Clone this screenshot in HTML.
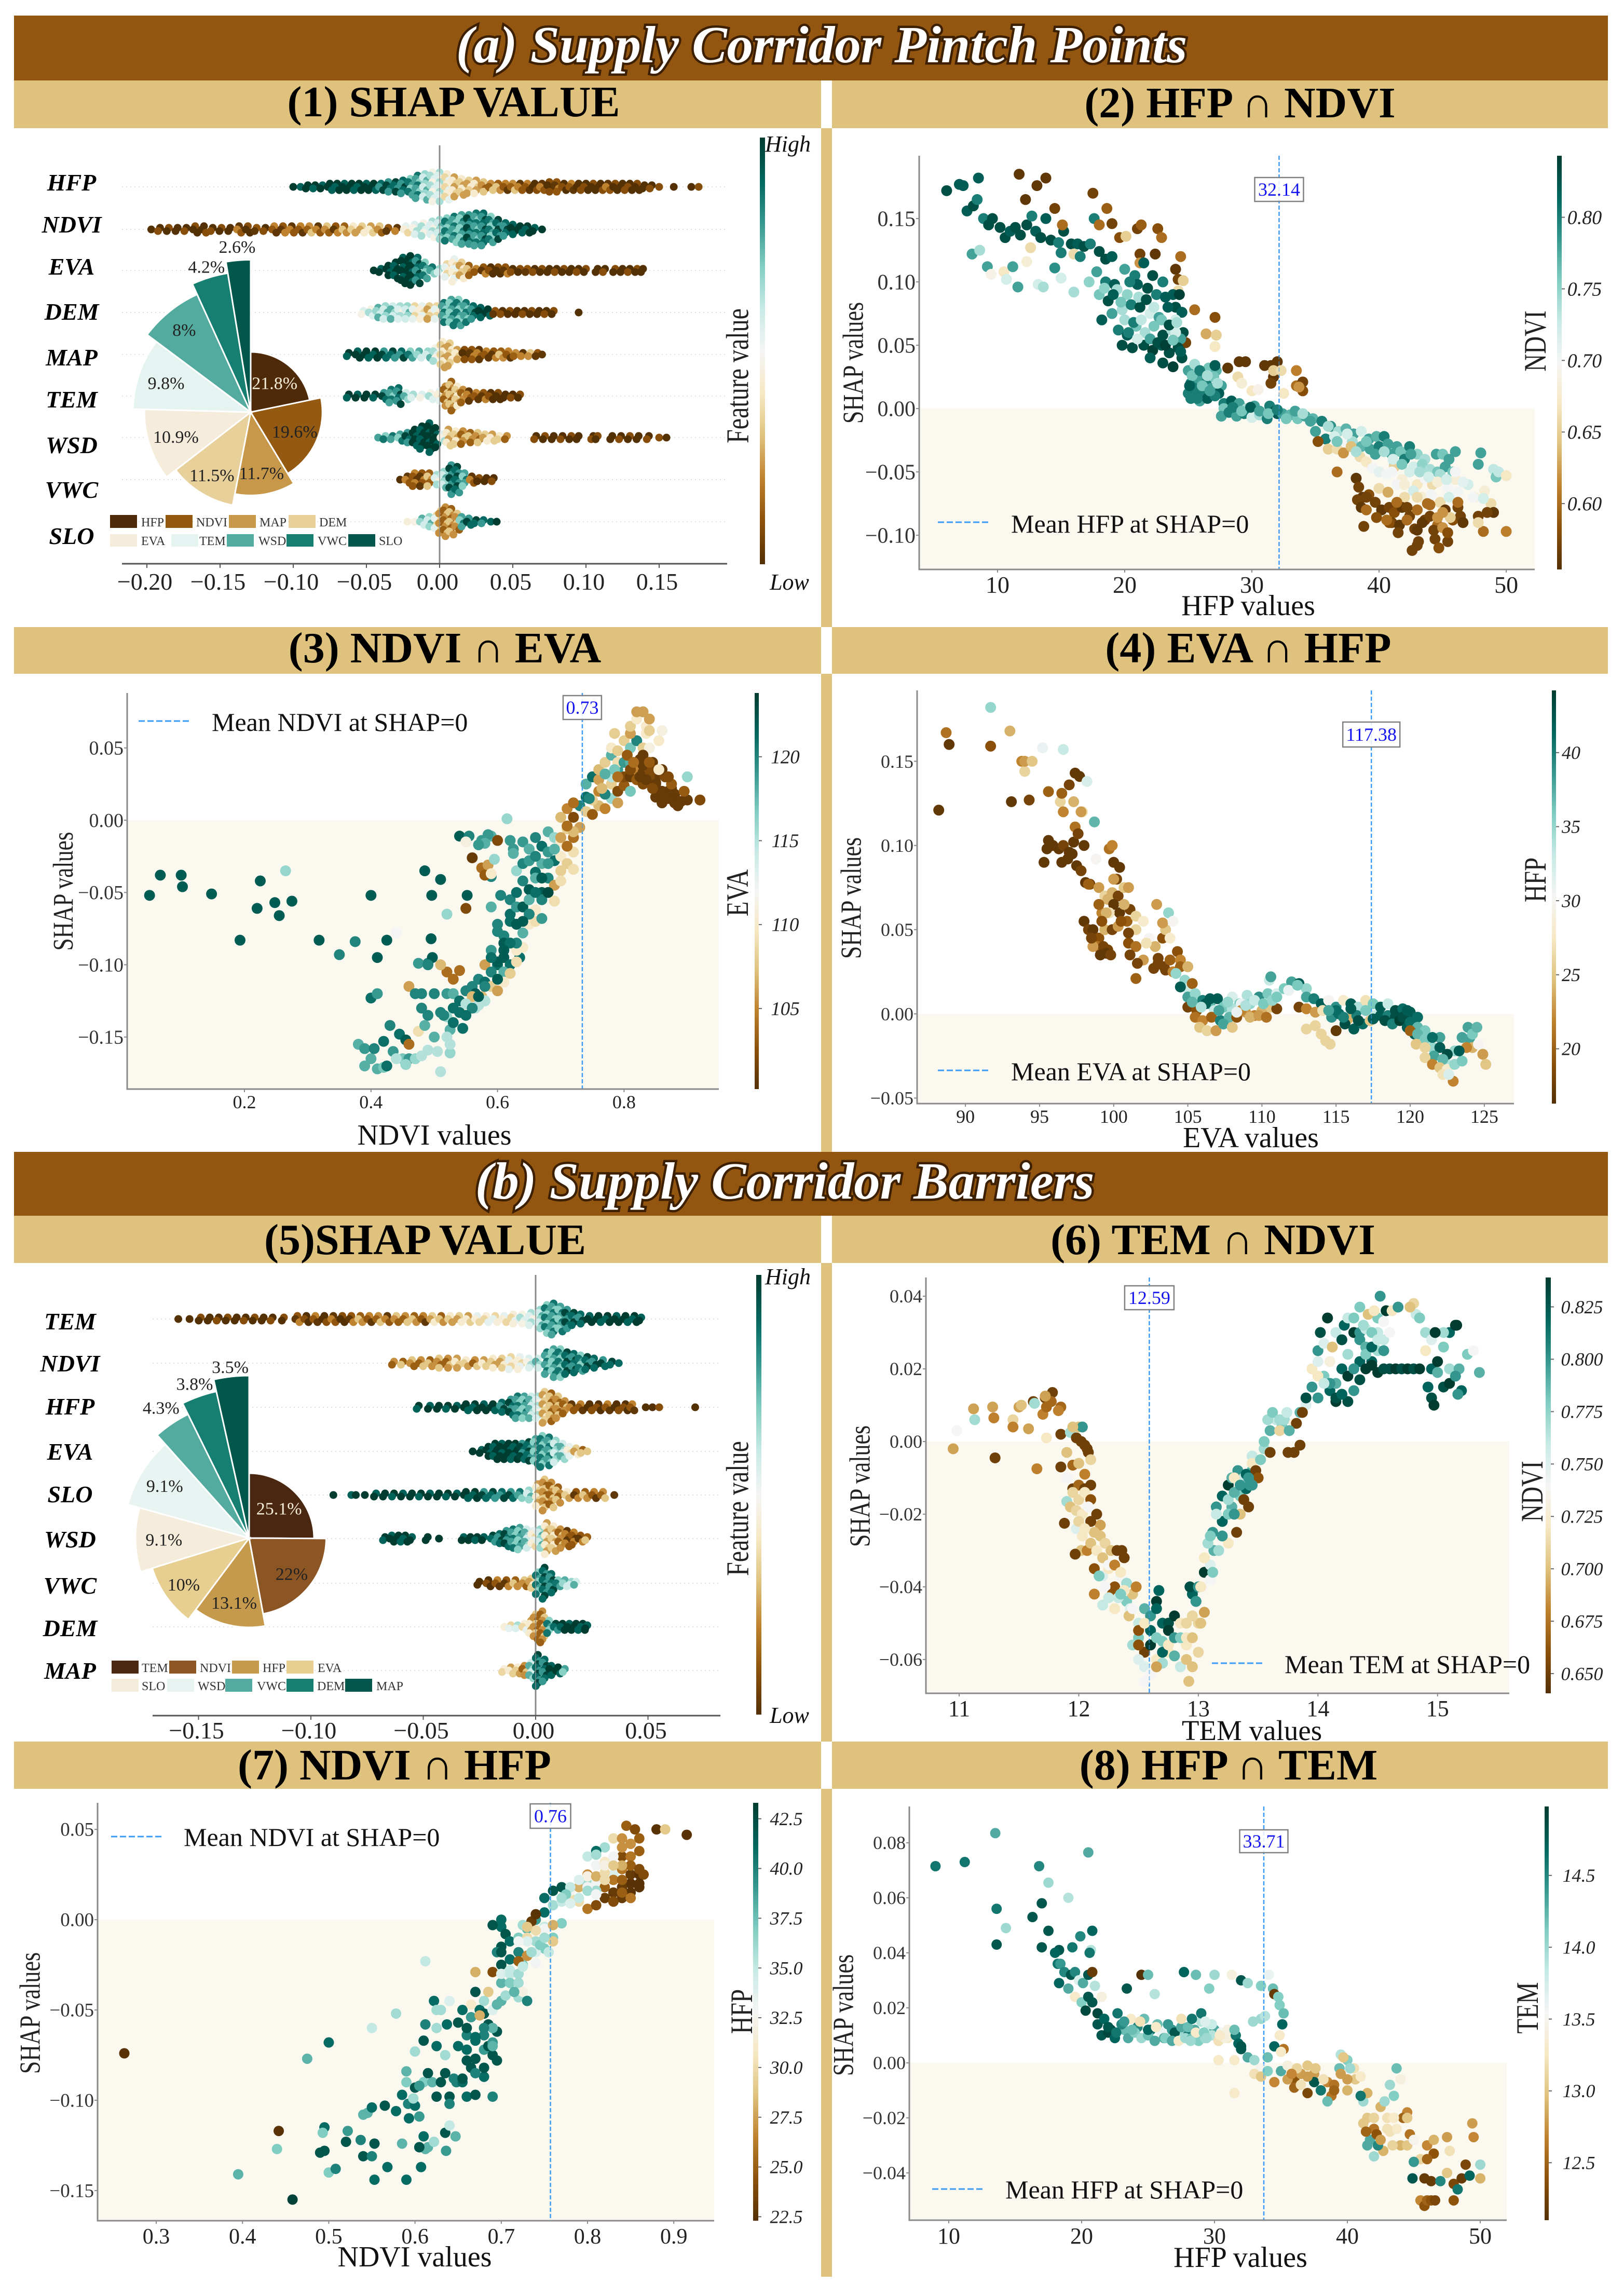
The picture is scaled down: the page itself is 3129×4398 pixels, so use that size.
<!DOCTYPE html>
<html lang="en">
<head>
<meta charset="utf-8">
<title>Supply Corridor SHAP panels</title>
<style>
html,body{margin:0;padding:0;background:#fff}
svg{display:block;font-family:"Liberation Serif","DejaVu Serif",serif}
</style>
</head>
<body>
<svg id="root" width="3129" height="4398" viewBox="0 0 3129 4398">
<rect x="0" y="0" width="3129" height="4398" fill="#ffffff"/>
<g id="panels"></g>
<g fill="#dfc27d">
<rect x="1582" y="247" width="21" height="961"/>
<rect x="1582" y="1298" width="21" height="921"/>
<rect x="1582" y="2433" width="21" height="922"/>
<rect x="1582" y="3446" width="21" height="940"/>
</g>
<g>
<rect x="27" y="30" width="3071" height="125" fill="#925610"/>
<text x="1583" y="120" text-anchor="middle" font-size="101" font-weight="bold" font-style="italic" fill="#ffffff" stroke="#3d1f02" stroke-width="9" paint-order="stroke">(a) Supply Corridor Pintch Points</text>
</g>
<g>
<rect x="27" y="2219" width="3071" height="123" fill="#925610"/>
<text x="1512" y="2309" text-anchor="middle" font-size="101" font-weight="bold" font-style="italic" fill="#ffffff" stroke="#3d1f02" stroke-width="9" paint-order="stroke">(b) Supply Corridor Barriers</text>
</g>
<g font-size="84" font-weight="bold" text-anchor="middle" fill="#000">
<rect x="27" y="155" width="1555" height="92" fill="#dfc27d"/>
<rect x="1603" y="155" width="1495" height="92" fill="#dfc27d"/>
<rect x="27" y="1208" width="1555" height="90" fill="#dfc27d"/>
<rect x="1603" y="1208" width="1495" height="90" fill="#dfc27d"/>
<rect x="27" y="2342" width="1555" height="91" fill="#dfc27d"/>
<rect x="1603" y="2342" width="1495" height="91" fill="#dfc27d"/>
<rect x="27" y="3355" width="1555" height="91" fill="#dfc27d"/>
<rect x="1603" y="3355" width="1495" height="91" fill="#dfc27d"/>
<text x="874" y="224">(1) SHAP VALUE</text>
<text x="2389" y="226">(2) HFP ∩ NDVI</text>
<text x="857" y="1276">(3) NDVI ∩ EVA</text>
<text x="2405" y="1276">(4) EVA ∩ HFP</text>
<text x="819" y="2416">(5)SHAP VALUE</text>
<text x="2337" y="2416">(6) TEM ∩ NDVI</text>
<text x="760" y="3428">(7) NDVI ∩ HFP</text>
<text x="2367" y="3428">(8) HFP ∩ TEM</text>
</g>
<defs>
<linearGradient id="brbg" x1="0" y1="1" x2="0" y2="0">
<stop offset="0" stop-color="#543005"/><stop offset=".1" stop-color="#8c510a"/><stop offset=".2" stop-color="#bf812d"/><stop offset=".3" stop-color="#dfc27d"/><stop offset=".4" stop-color="#f6e8c3"/><stop offset=".5" stop-color="#f5f5f5"/><stop offset=".6" stop-color="#c7eae5"/><stop offset=".7" stop-color="#80cdc1"/><stop offset=".8" stop-color="#35978f"/><stop offset=".9" stop-color="#01665e"/><stop offset="1" stop-color="#003c30"/>
</linearGradient>
</defs>
</svg>
<script>
/* ---------- Panel 1 beeswarm data: SHAP bin (per-mille), dots in bin, feature decile ---------- */
const shapTicks1=[-0.20,-0.15,-0.10,-0.05,0,0.05,0.10,0.15];
const rowNames1=['HFP','NDVI','EVA','DEM','MAP','TEM','WSD','VWC','SLO'];
const p1HfpShap=[-100,-95,-90,-85,-80,-75,-70,-65,-60,-55,-50,-45,-40,-35,-30,-25,-20,-15,-10,-5,0,5,10,15,20,25,30,35,40,45,50,55,60,65,70,75,80,85,90,95,100,105,110,115,120,125,130,135,140,145,150,160,172,177];
const p1HfpCount=[1,1,2,2,2,3,3,3,3,3,3,3,3,4,4,5,6,8,9,10,10,9,7,6,5,5,4,3,3,3,3,3,3,3,3,4,4,3,3,3,3,3,3,3,3,3,3,3,2,2,1,1,1,1];
const p1HfpFeat=[9,9,9,9,9,9,9,9,9,9,9,9,8,8,8,8,7,7,6,5,5,4,3,3,3,3,2,2,2,1,2,1,1,0,1,0,1,0,1,0,0,0,0,1,0,0,0,0,0,0,0,0,0,0];
const p1NdviShap=[-197,-191,-185,-179,-173,-167,-161,-155,-149,-143,-137,-131,-125,-119,-113,-107,-101,-95,-89,-83,-77,-71,-65,-59,-53,-47,-41,-35,-29,-23,-17,-11,-5,0,5,10,15,20,25,30,35,40,45,50,55,60,65,70];
const p1NdviCount=[1,2,2,2,2,3,3,2,2,2,3,3,2,2,3,3,3,3,3,3,3,3,3,3,3,3,3,2,2,3,4,5,6,7,8,9,10,10,11,11,9,7,5,4,3,3,2,1];
const p1NdviFeat=[0,0,0,0,0,0,0,0,0,0,1,0,1,0,1,1,1,1,2,1,2,1,2,3,3,3,2,1,1,4,5,5,5,6,7,7,7,8,7,8,7,8,8,9,9,9,9,9];
const p1EvaShap=[-45,-40,-35,-30,-25,-20,-15,-10,-5,0,5,10,15,20,25,30,35,40,45,50,55,60,65,70,75,80,85,90,95,100,108,113,120,125,130,135,139];
const p1EvaCount=[1,2,4,6,9,10,9,6,3,2,5,8,6,4,2,3,3,3,3,2,2,2,2,2,2,2,2,2,2,2,2,2,2,2,2,2,2];
const p1EvaFeat=[9,9,9,9,9,9,8,7,7,6,4,4,3,2,1,1,0,0,1,0,0,1,0,0,0,0,0,0,0,0,0,0,0,0,0,0,0];
const p1DemShap=[-52,-47,-42,-37,-32,-27,-22,-17,-12,-7,-2,3,8,13,18,23,28,33,38,43,48,53,58,63,68,73,78,95];
const p1DemCount=[2,3,4,5,5,5,5,5,5,5,5,7,9,9,7,5,4,3,2,2,2,2,2,2,2,2,2,1];
const p1DemFeat=[5,5,6,6,6,5,6,4,4,3,4,7,7,7,7,8,9,9,1,0,0,0,0,0,0,0,0,0];
const p1MapShap=[-62,-56,-50,-44,-38,-32,-26,-20,-14,-8,-3,2,7,12,17,22,27,32,37,42,47,52,57,62,67,70];
const p1MapCount=[2,3,3,3,3,3,3,3,3,3,5,9,8,4,4,4,4,3,3,3,3,2,2,2,2,1];
const p1MapFeat=[9,9,9,9,8,8,8,7,6,6,5,3,3,3,0,1,1,1,1,2,1,2,1,2,1,1];
const p1TemShap=[-62,-56,-50,-44,-38,-33,-28,-23,-18,-12,-6,0,4,8,12,16,20,25,30,35,40,45,50,55];
const p1TemCount=[2,2,2,2,3,5,6,3,2,2,3,4,7,10,7,5,4,3,3,3,3,2,2,2];
const p1TemFeat=[9,9,9,9,8,7,8,6,5,5,5,4,2,2,3,2,1,1,1,0,0,0,0,0];
const p1WsdShap=[-42,-37,-32,-27,-22,-17,-12,-7,-3,2,6,11,16,21,26,31,36,41,46,66,72,78,84,90,95,105,108,118,124,130,136,143,150,155];
const p1WsdCount=[1,2,2,3,4,6,8,10,7,3,6,5,5,4,4,3,3,2,2,2,2,2,2,2,2,2,2,2,2,2,2,2,1,1];
const p1WsdFeat=[7,7,7,7,8,9,9,9,9,5,3,3,2,2,2,3,3,3,2,0,0,0,0,0,0,0,0,0,0,0,0,0,0,0];
const p1VwcShap=[-27,-22,-17,-12,-7,-2,3,8,12,17,22,27,32,37];
const p1VwcCount=[1,3,5,5,5,4,6,10,9,5,3,2,2,2];
const p1VwcFeat=[0,1,1,1,2,5,6,8,8,7,1,0,0,0];
const p1SloShap=[-22,-17,-12,-7,-2,1,4,8,12,15,20,25,30,35,39];
const p1SloCount=[1,1,3,4,5,8,10,9,6,4,3,2,2,1,1];
const p1SloFeat=[4,5,6,6,4,2,2,2,2,7,8,8,8,9,9];
const pieNames1=['HFP','NDVI','MAP','DEM','EVA','TEM','WSD','VWC','SLO'];
const pieShares1=[21.8,19.6,11.7,11.5,10.9,9.8,8,4.2,2.6];
const pieLabels1=['21.8%','19.6%','11.7%','11.5%','10.9%','9.8%','8%','4.2%','2.6%'];

/* ---------- Panel 5 beeswarm data ---------- */
const shapTicks5=[-0.15,-0.10,-0.05,0,0.05];
const rowNames5=['TEM','NDVI','HFP','EVA','SLO','WSD','VWC','DEM','MAP'];
const p5TemShap=[-159,-154,-149,-145,-141,-137,-133,-129,-125,-121,-117,-112,-106,-102,-98,-94,-90,-86,-82,-78,-74,-70,-66,-62,-58,-54,-50,-46,-42,-38,-34,-30,-26,-22,-18,-14,-10,-6,-2,2,5,8,11,14,17,20,24,28,32,36,40,44,47];
const p5TemCount=[1,1,2,2,2,2,2,2,2,2,2,2,3,3,3,3,3,3,3,3,3,3,3,3,3,3,3,3,3,3,3,3,3,3,3,3,4,4,5,7,10,11,9,7,5,4,3,3,3,3,3,3,2];
const p5TemFeat=[0,0,0,0,0,0,0,0,0,0,0,0,1,0,1,0,1,0,1,2,1,2,1,2,2,2,1,3,2,3,3,3,4,4,4,4,4,5,5,6,7,7,7,8,8,8,9,9,9,9,9,9,9];
const p5NdviShap=[-63,-59,-55,-51,-47,-43,-39,-35,-31,-27,-23,-19,-15,-11,-7,-3,1,5,8,11,14,17,20,23,26,30,34,37];
const p5NdviCount=[2,2,3,3,3,4,4,4,3,3,3,4,4,5,5,4,4,8,10,10,8,7,6,5,4,3,2,1];
const p5NdviFeat=[2,2,2,2,2,2,2,3,3,2,3,3,3,4,4,5,6,7,7,7,8,8,7,8,8,8,8,8];
const p5HfpShap=[-52,-47,-43,-39,-35,-31,-27,-23,-19,-15,-11,-8,-5,-2,1,4,7,10,13,16,20,24,28,32,36,40,43,49,52,55,71];
const p5HfpCount=[2,2,2,2,2,3,3,3,3,4,6,8,8,8,8,11,10,8,5,3,3,3,3,3,3,3,3,1,1,1,1];
const p5HfpFeat=[9,9,9,9,9,9,9,9,9,8,8,7,7,6,5,3,2,2,2,1,1,0,0,1,0,0,1,0,0,0,0];
const p5EvaShap=[-28,-24,-21,-18,-15,-12,-9,-6,-3,0,3,6,9,12,15,18,21,23];
const p5EvaCount=[1,2,4,6,6,6,6,6,7,9,11,10,8,6,4,3,2,1];
const p5EvaFeat=[9,9,9,9,9,9,9,8,8,7,7,7,6,6,4,3,2,2];
const p5SloShap=[-90,-82,-80,-76,-71,-67,-63,-59,-55,-51,-47,-43,-39,-35,-31,-27,-23,-19,-15,-11,-7,-3,1,4,7,10,14,18,22,26,30,35];
const p5SloCount=[1,1,1,1,2,2,2,2,2,2,2,2,2,2,3,3,3,3,3,3,3,4,8,11,9,6,3,3,3,3,3,1];
const p5SloFeat=[9,9,9,9,9,9,9,9,9,9,9,9,9,9,9,9,8,8,8,8,7,6,3,2,2,2,3,1,2,1,2,1];
const p5WsdShap=[-67,-64,-61,-58,-55,-48,-43,-32,-29,-26,-23,-19,-16,-13,-10,-7,-4,-1,2,5,8,11,14,17,20,23];
const p5WsdCount=[2,3,3,3,2,2,1,2,2,2,2,3,4,6,7,8,7,6,7,11,9,7,6,5,3,2];
const p5WsdFeat=[9,9,9,9,9,9,9,9,9,9,9,8,8,8,7,7,6,4,6,3,3,2,1,1,1,2];
const p5VwcShap=[-25,-21,-17,-13,-9,-5,-2,1,4,7,10,13,16,18];
const p5VwcCount=[2,3,3,3,3,3,4,8,11,7,3,3,2,2];
const p5VwcFeat=[0,0,1,1,2,2,3,7,8,8,7,6,6,6];
const p5DemShap=[-14,-11,-8,-5,-2,0,3,6,9,12,15,18,21,23];
const p5DemCount=[1,2,2,3,5,9,11,5,3,3,3,3,3,2];
const p5DemFeat=[4,4,5,4,3,2,2,7,8,9,9,9,9,9];
const p5MapShap=[-14,-11,-8,-5,-2,1,4,7,10,13];
const p5MapCount=[2,3,3,4,6,11,8,4,3,2];
const p5MapFeat=[4,3,3,2,6,8,8,9,9,7];
const pieNames5=['TEM','NDVI','HFP','EVA','SLO','WSD','VWC','DEM','MAP'];
const pieShares5=[25.1,22,13.1,10,9.1,9.1,4.3,3.8,3.5];
const pieLabels5=['25.1%','22%','13.1%','10%','9.1%','9.1%','4.3%','3.8%','3.5%'];

/* ---------- Panel 2: HFP vs SHAP, colour NDVI ---------- */
const p2X=[6,7,7.3,8.5,7.6,8.1,8.4,8.9,9.3,9.6,
10.2,10.6,11,11.4,11.8,12.3,12.7,13,13.4,13.8,
14.2,14.8,15.2,15.8,16.3,16.8,17.3,17.6,16,15,
8,8.6,9.2,9.5,10.5,10.7,11.2,11.6,12.3,12.6,
13.2,13.6,14.5,15,16,16.5,17.2,18,18.5,19,
11.7,13.8,12.2,13.1,14.5,15.1,17.5,18.6,18,19,
19.6,20.1,21,21.3,22.6,22.9,21.2,22.4,24.4,21.2,
24,24.2,24.6,24.2,25.5,27.1,26.4,27.2,24.8,27.1,
17.8,18.5,19.2,20,20.8,21.5,22.2,23,23.8,24.3,
18,18.7,19.4,20.2,21,21.8,22.5,23.2,24,24.5,
18.2,19,19.8,20.5,21.2,22,22.7,23.4,24,24.6,
19.5,20.2,20.9,21.6,22.3,23,23.7,24.4,19.8,20.6,
21.5,22.2,22.9,23.5,24.2,22,23,23.8,24.5,24,
25,25.5,26,26.6,27.2,25.2,25.8,26.4,27,27.6,
25,25.6,26.2,26.8,27.4,25.2,25.9,26.5,27.1,27.8,
27.8,28.4,29,29.6,30.2,30.8,31.4,32,27.6,28.2,
28.8,29.4,30,30.6,31.2,31.8,32.4,33,33.6,34.2,
28.1,29,29.5,31,31.5,31.7,32,31.7,32.3,33.5,
28.9,29.2,30,31.5,33.5,34,34,33.7,32.5,30.5,
34.8,35.5,36.2,36.8,37.4,38,38.6,39.2,39.8,40.4,
35,35.8,36.5,37.2,37.9,38.6,39.3,40,40.7,41.4,
41,41.7,42.4,43,43.6,41.2,42,42.7,43.4,44,
44.5,45,45.5,46,44.6,45.2,45.8,48,47.8,49,
35.2,36,36.7,37.2,37.8,36.7,38.5,39,39.5,40,
40.6,41.2,41.8,42.4,43,43.6,44.2,44.8,45.4,46,
40,40.7,41.4,42,42.7,43.4,44.1,44.8,45.5,46.2,
47,47.5,48.3,48.8,49.2,49.4,50,47.4,48.2,46.6,
38.2,38.4,38.7,39.2,38.3,38.6,39,39.7,40.2,40.8,
41.2,41.8,42.4,43,43.6,41,41.6,42.2,42.8,43.4,
44,44.6,45.2,45.8,46.4,44.3,45,45.6,46.2,46.6,
38.8,40.8,41.5,42.6,43.1,43,44.4,44.7,45.4,47.8,
18.4,19.1,19.7,20.4,21.1,21.7,22.3,22.9,23.5,24.1,
20,20.7,21.3,22,22.6,23.2,23.8,24.4,20.3,21,
25.3,25.9,26.5,27.1,25.5,26.1,26.7,27.3,25.1,25.7,
28.5,29.2,29.9,30.6,31.3,32,32.7,33.4,34,34.6,
36,36.7,37.5,38.2,39,39.7,40.4,41.1,41.8,42.5,
43.2,43.9,44.6,45.3,46,41,42,43,44,45,
39,39.8,40.6,41.4,42.2,43,43.8,44.6,45.4,46.2,
48.2,49,50,48.5,47.8];
const p2Y=[.172,.177,.176,.182,.156,.16,.165,.15,.145,.15,
.143,.135,.14,.143,.137,.145,.152,.14,.135,.15,
.133,.131,.14,.13,.13,.128,.13,.15,.122,.123,
.122,.125,.112,.106,.108,.102,.112,.096,.116,.127,
.098,.096,.111,.103,.092,.12,.1,.124,.118,.12,
.185,.182,.165,.176,.158,.145,.17,.158,.145,.146,
.135,.136,.142,.145,.142,.135,.122,.122,.12,.115,
.11,.102,.101,.093,.078,.072,.059,.058,.052,.049,
.108,.1,.098,.11,.105,.115,.105,.1,.09,.09,
.09,.085,.094,.09,.098,.095,.09,.088,.08,.076,
.07,.075,.078,.082,.08,.075,.072,.08,.07,.06,
.062,.058,.065,.06,.065,.058,.062,.055,.05,.048,
.05,.046,.05,.044,.048,.04,.036,.033,.04,.06,
.03,.035,.028,.032,.03,.02,.024,.02,.025,.018,
.012,.014,.012,.016,.012,.008,.006,.008,.01,.004,
0,.006,.004,0,.002,-.003,.002,-.004,-.006,-.003,
-.006,-.004,-.007,-.005,-.008,-.002,-.004,-.005,-.008,-.006,
.032,.037,.037,.034,.034,.025,.037,.03,.03,.03,
.025,.02,.014,.02,.018,.021,.014,.017,.012,.015,
-.008,-.01,-.014,-.018,-.016,-.02,-.018,-.024,-.022,-.022,
-.018,-.024,-.022,-.028,-.026,-.03,-.032,-.03,-.028,-.03,
-.036,-.034,-.03,-.036,-.04,-.044,-.04,-.046,-.044,-.048,
-.036,-.036,-.04,-.034,-.05,-.046,-.05,-.035,-.044,-.048,
-.026,-.032,-.032,-.035,-.03,-.05,-.038,-.042,-.047,-.05,
-.052,-.046,-.056,-.05,-.06,-.055,-.06,-.052,-.062,-.056,
-.063,-.066,-.06,-.07,-.065,-.07,-.068,-.074,-.07,-.066,
-.06,-.07,-.065,-.075,-.054,-.05,-.053,-.07,-.071,-.058,
-.055,-.062,-.07,-.068,-.072,-.078,-.08,-.074,-.08,-.078,
-.082,-.078,-.085,-.08,-.088,-.09,-.092,-.088,-.095,-.09,
-.085,-.092,-.08,-.088,-.085,-.096,-.094,-.086,-.078,-.09,
-.093,-.09,-.098,-.112,-.105,-.108,-.103,-.11,-.105,-.085,
.095,.09,.084,.1,.088,.086,.08,.07,.066,.068,
.07,.068,.07,.055,.052,.05,.054,.045,.06,.055,
.026,.03,.026,.034,.016,.018,.014,.02,.018,.008,
.001,-.002,.001,-.002,-.004,-.001,-.008,-.002,-.004,-.01,
-.014,-.026,-.02,-.034,-.026,-.036,-.034,-.04,-.044,-.036,
-.05,-.054,-.058,-.056,-.05,-.05,-.06,-.07,-.076,-.082,
-.07,-.086,-.088,-.074,-.078,-.096,-.075,-.086,-.098,-.074,
-.097,-.082,-.097,-.082,-.09];
const p2C=[.83,.82,.82,.82,.82,.83,.8,.8,.83,.83,
.83,.83,.82,.83,.83,.83,.8,.82,.83,.82,
.83,.8,.83,.83,.82,.83,.8,.8,.66,.8,
.78,.74,.78,.69,.67,.72,.78,.78,.68,.66,
.72,.74,.79,.72,.74,.8,.75,.83,.83,.82,
.56,.56,.56,.56,.57,.6,.57,.59,.6,.57,
.58,.65,.57,.59,.58,.6,.57,.56,.6,.62,
.56,.57,.65,.66,.6,.58,.63,.65,.57,.67,
.78,.8,.82,.78,.8,.82,.83,.8,.82,.84,
.76,.83,.74,.75,.82,.83,.8,.82,.83,.82,
.82,.78,.74,.8,.83,.72,.78,.82,.72,.83,
.8,.82,.76,.74,.76,.83,.74,.78,.83,.83,
.83,.84,.82,.83,.83,.82,.83,.84,.83,.72,
.78,.74,.78,.76,.77,.8,.78,.8,.76,.78,
.8,.81,.8,.78,.82,.8,.78,.82,.8,.8,
.76,.82,.78,.74,.78,.72,.8,.82,.78,.8,
.78,.8,.72,.74,.8,.82,.78,.77,.76,.78,
.56,.56,.56,.56,.56,.56,.56,.65,.66,.61,
.66,.68,.67,.57,.6,.57,.58,.62,.67,.69,
.77,.8,.79,.74,.77,.78,.72,.78,.77,.8,
.78,.8,.72,.7,.74,.77,.78,.8,.78,.78,
.78,.76,.8,.75,.74,.74,.8,.72,.75,.74,
.78,.76,.78,.78,.76,.78,.76,.78,.78,.73,
.58,.65,.66,.62,.64,.6,.66,.67,.7,.71,
.7,.65,.68,.72,.67,.7,.66,.74,.7,.68,
.66,.63,.7,.66,.72,.68,.7,.66,.72,.7,
.72,.68,.68,.66,.76,.73,.67,.7,.72,.71,
.56,.57,.56,.58,.57,.56,.6,.57,.56,.57,
.58,.56,.57,.6,.57,.57,.56,.6,.57,.56,
.57,.6,.56,.58,.57,.57,.62,.65,.57,.56,
.57,.58,.57,.57,.57,.57,.57,.58,.57,.57,
.75,.82,.76,.8,.74,.83,.73,.76,.83,.74,
.74,.8,.73,.78,.83,.84,.76,.82,.8,.72,
.76,.8,.74,.82,.8,.76,.78,.74,.82,.8,
.8,.76,.82,.78,.76,.8,.76,.78,.74,.78,
.74,.76,.72,.74,.76,.78,.74,.72,.76,.78,
.74,.72,.68,.72,.7,.7,.68,.66,.6,.62,
.57,.58,.6,.6,.57,.56,.6,.62,.58,.6,
.6,.56,.61,.57,.66];
const p2Mean=32.14;
const p2XTicks=[10,20,30,40,50];
const p2YTicks=[.15,.10,.05,0,-.05,-.10];
const p2CTicks=[.80,.75,.70,.65,.60];

/* ---------- Panel 3: NDVI vs SHAP, colour EVA ---------- */
const p3X=[.05,.067,.1,.102,.148,.225,.22,.248,.255,.275,
.193,.265,.318,.375,.35,.4,.41,.425,.44,.485,
.496,.51,.495,.49,.497,.475,.52,.54,.555,.552,
.575,.59,.585,.58,.57,.62,.6,.615,.625,.55,
.56,.575,.585,.59,.58,.595,.625,.55,.59,.59,
.64,.65,.66,.67,.68,.69,.7,.71,.72,.73,
.63,.64,.65,.66,.67,.68,.69,.7,.71,.72,
.62,.63,.64,.65,.66,.67,.68,.69,.7,.72,
.605,.62,.63,.64,.65,.66,.67,.68,.69,.7,
.6,.61,.62,.63,.64,.65,.66,.6,.61,.635,
.59,.6,.61,.62,.63,.64,.58,.59,.6,.61,
.57,.58,.59,.6,.61,.62,.63,.56,.565,.575,
.52,.53,.54,.55,.56,.53,.54,.55,.565,.58,
.46,.47,.48,.49,.5,.52,.53,.54,.49,.51,
.43,.445,.455,.46,.475,.485,.5,.51,.52,.525,
.38,.39,.4,.405,.42,.435,.45,.46,.47,.48,
.39,.41,.42,.425,.44,.455,.49,.505,.525,.51,
.52,.525,.4,.41,.48,.515,.53,.545,.57,.58,
.66,.67,.68,.65,.66,.67,.64,.63,.62,.61,
.6,.59,.58,.57,.56,.55,.69,.7,.71,.72,
.7,.71,.72,.73,.74,.75,.76,.77,.78,.79,
.71,.72,.74,.75,.76,.77,.78,.79,.8,.81,
.74,.75,.76,.77,.78,.79,.8,.81,.82,.83,
.76,.77,.78,.79,.8,.81,.82,.83,.84,.85,
.78,.79,.8,.81,.82,.83,.84,.785,.81,.835,
.81,.82,.83,.835,.84,.82,.83,.84,.86,.855,
.745,.765,.785,.805,.825,.845,.77,.79,.81,.83,
.85,.86,.87,.88,.89,.9,.92,.85,.865,.875,
.88,.84,.86,.87,.885,.895,.9,.86,.845,.875,
.83,.84,.85,.86,.87,.815,.825,.835,.845,.855];
const p3Y=[-.052,-.038,-.038,-.046,-.051,-.042,-.061,-.057,-.066,-.056,
-.083,-.035,-.083,-.084,-.093,-.052,-.095,-.083,-.078,-.035,
-.052,-.041,-.082,-.099,-.095,-.099,-.065,-.011,-.011,-.052,
-.014,-.011,-.01,-.016,-.017,-.014,-.014,.001,-.02,-.015,
-.026,-.033,-.031,-.039,-.038,-.027,-.023,-.061,-.06,-.037,
-.015,-.02,-.012,-.018,-.008,-.012,-.015,-.006,-.012,-.005,
-.035,-.03,-.028,-.036,-.03,-.022,-.028,-.025,-.03,-.022,
-.055,-.05,-.042,-.048,-.04,-.05,-.04,-.045,-.035,-.034,
-.052,-.065,-.06,-.06,-.055,-.062,-.055,-.05,-.056,-.042,
-.077,-.08,-.07,-.072,-.078,-.072,-.07,-.072,-.085,-.095,
-.09,-.1,-.095,-.1,-.09,-.088,-.1,-.105,-.098,-.105,
-.11,-.112,-.115,-.118,-.112,-.106,-.098,-.115,-.12,-.122,
-.12,-.12,-.125,-.118,-.122,-.13,-.133,-.127,-.13,-.125,
-.115,-.12,-.13,-.135,-.12,-.105,-.11,-.104,-.1,-.1,
-.142,-.148,-.152,-.155,-.146,-.142,-.15,-.133,-.136,-.145,
-.155,-.158,-.165,-.158,-.153,-.16,-.165,-.165,-.165,-.163,
-.17,-.172,-.171,-.17,-.165,-.169,-.159,-.16,-.161,-.174,
-.15,-.155,-.123,-.12,-.12,-.135,-.14,-.144,-.128,-.125,
-.025,-.04,-.03,-.065,-.05,-.068,-.07,-.085,-.085,-.09,
-.11,-.095,-.115,-.122,-.13,-.135,-.02,-.012,-.018,-.008,
.002,.008,.002,.01,.006,.004,.01,.008,.015,.012,
-.004,.012,.016,.014,.02,.018,.025,.02,.024,.02,
.025,.03,.028,.032,.03,.035,.03,.03,.028,.025,
.035,.04,.045,.04,.04,.04,.035,.033,.035,.03,
.05,.048,.055,.05,.055,.05,.05,.06,.06,.06,
.065,.07,.075,.065,.07,.075,.075,.062,.062,.055,
.015,.022,.035,.045,.042,.04,.032,.03,.035,.038,
.016,.018,.02,.018,.013,.014,.014,.026,.03,.022,
.012,.03,.012,.015,.01,.02,.03,.035,.035,.025,
.045,.04,.025,.02,.03,.04,.03,.028,.022,.035];
const p3C=[122,122,122,122,122,122,122,122,122,122,
122,116,122,120,120,122,122,122,112,122,
122,122,122,120,122,119,116,122,120,122,
119,118,119,118,119,119,102,116,119,111,
101,104,106,120,103,116,118,102,118,110,
119,118,120,121,118,116,110,108,104,106,
116,120,119,121,118,119,121,110,108,109,
120,121,120,122,118,122,120,106,108,109,
120,121,119,122,118,110,120,123,109,109,
120,120,121,122,118,110,109,120,122,121,
119,121,122,121,110,110,106,120,122,118,
120,121,108,106,110,108,109,120,122,107,
119,118,121,120,107,121,121,115,115,116,
106,120,120,120,120,104,104,104,120,107,
120,121,122,104,109,118,118,120,116,118,
118,119,118,120,121,119,117,119,116,115,
118,118,117,121,115,116,115,115,116,115,
115,115,121,119,120,120,121,121,115,115,
120,122,119,120,121,119,122,120,121,122,
122,121,120,122,120,121,118,106,104,107,
107,105,102,120,108,103,107,105,116,106,
104,104,121,108,105,120,108,102,103,117,
118,121,106,108,115,119,102,101,103,102,
107,108,118,109,119,118,105,101,102,101,
110,108,108,117,120,108,111,108,106,110,
108,110,106,110,106,106,106,108,111,110,
120,107,117,103,101,101,118,104,102,101,
101,101,101,101,101,101,102,101,102,101,
101,102,101,101,101,103,116,101,102,103,
101,103,101,101,102,104,101,101,102,110];
const p3Mean=0.734;
const p3XTicks=[.2,.4,.6,.8];
const p3YTicks=[.05,0,-.05,-.10,-.15];
const p3CTicks=[120,115,110,105];

/* ---------- Panel 4: EVA vs SHAP, colour HFP ---------- */
const p4X=[88.2,88.7,88.9,91.7,91.7,93,93.1,93.8,94,94.3,
94,94.5,95.2,95.6,96.4,96.6,96.5,96.6,97,97.4,
97.7,97.9,98.2,97.3,97.8,98.7,97.4,98.8,95.3,95.6,
95.5,95.9,96.3,96.6,97,97.3,97.6,98,96.5,96.9,
97.2,97.5,97.8,98.1,98.4,99.7,99.9,100,100.4,100.2,
98.3,99,99.4,99.9,100.3,100.7,101,99.2,99.6,100,
98,98.3,98.6,99,99.4,99.9,100.4,100.9,101.1,99.7,
98.9,99.3,99.6,98.6,99.1,99.5,99.8,100.3,101,101.5,
99,99.5,100,100.5,101,101.5,102,98.5,99.2,100.7,
101.5,102,102.4,102.8,101.1,101.6,102.2,102.9,103.3,103.5,
103.3,103.7,104,103.8,103,103.4,103.8,104.3,104.5,101.5,
102.7,103,103.5,104,104.5,105,104.8,104.2,105,105.3,
104.5,105,105.5,106,106.5,107,107.5,108,108.5,109,
105,105.6,106.2,106.8,107.4,108,108.6,109.2,109.8,110.4,
105.5,106,106.6,107.2,107.8,108.3,108.9,109.5,110,110.6,
105.8,106.3,106.9,107.4,108,108.6,109.2,109.8,110.3,111,
105.3,105.9,106.5,107.1,107.7,108.3,108.9,109.5,110.1,110.7,
110.5,111,111.5,112,112.5,113,111,111.8,112.4,110.6,
113,113.5,114,114.5,115,115.5,116,116.5,117,117.5,
112.5,113,113.6,114.1,114.7,115.2,115.8,116.4,117,117.6,
113,113.6,114,114.3,114.6,115,115.6,116.2,116.8,117.3,
115.5,116,116.5,117,117.5,118,118.5,119,115,114.5,
118,118.5,119,119.5,120,120.5,118.3,118.8,119.3,119.8,
119.5,120,120.5,121,121.5,122,122.5,123,119.8,120.3,
120,120.5,121,121.5,122,122.5,120.4,121,121.6,122.2,
121,121.5,122,122.5,122.9,122.2,122.6,123,123.5,124,
123.5,123.9,124.2,124.5,124.9,125.1,124.2,123.8,124.6,123.3];
const p4Y=[.121,.167,.16,.182,.159,.168,.126,.15,.144,.127,
.15,.15,.158,.132,.126,.157,.131,.12,.136,.143,
.141,.12,.138,.126,.12,.114,.111,.092,.09,.103,
.098,.1,.098,.1,.096,.102,.107,.1,.09,.092,
.095,.088,.085,.078,.077,.098,.1,.09,.087,.08,
.077,.075,.07,.072,.07,.075,.075,.06,.068,.065,
.055,.05,.05,.045,.05,.05,.06,.055,.062,.06,
.04,.04,.038,.04,.035,.036,.035,.052,.042,.05,
.065,.06,.08,.055,.048,.04,.032,.045,.055,.065,
.058,.055,.045,.04,.035,.03,.042,.065,.045,.05,
.054,.06,.055,.045,.033,.028,.032,.037,.032,.021,
.027,.03,.026,.025,.028,.028,.02,.024,.015,.018,
.016,.01,.012,.008,.006,.009,.004,.01,.006,.011,
.004,.002,.006,.002,.004,.003,.006,.006,.01,.012,
-.002,-.004,-.002,-.004,-.002,-.002,.001,-.001,.002,.004,
-.008,-.01,-.01,-.006,-.008,.002,-.002,-.001,-.002,.003,
.007,.004,.009,.002,.007,.001,.005,.008,.006,.008,
.02,.012,.015,.019,.018,.015,.01,.014,.017,.022,
.01,.009,.006,.008,.004,.008,.006,.004,.008,.006,
.004,.003,.001,.002,-.002,0,-.003,-.001,-.002,-.001,
-.009,-.007,-.012,-.016,-.018,-.01,-.006,-.009,-.006,-.004,
-.002,.003,-.004,.002,-.003,-.001,-.001,-.002,.002,.002,
.004,.006,.002,.003,.001,-.002,-.004,-.006,-.004,-.008,
-.002,-.005,-.008,-.01,-.02,-.014,-.03,-.022,.002,-.012,
-.01,-.012,-.015,-.014,-.02,-.024,-.018,-.02,-.025,-.027,
-.026,-.03,-.032,-.033,-.04,-.036,-.036,-.03,-.028,-.015,
-.014,-.008,-.012,-.008,-.024,-.03,-.02,-.02,-.018,-.022];
const p4C=[17,21,17,35,19,24,17,22,26,18,
23,25,31,20,26,33,20,22,18,17,
17,27,32,24,23,37,21,30,17,17,
17,17,17,18,17,17,18,17,17,17,
17,17,18,17,18,21,22,17,17,18,
20,23,26,24,18,25,23,22,24,17,
17,18,17,19,24,18,17,20,18,27,
21,18,18,23,17,17,18,23,19,26,
20,24,23,19,18,21,23,18,19,24,
26,28,30,24,18,18,27,23,19,25,
23,35,30,28,18,18,20,19,22,20,
18,18,18,22,20,24,35,35,33,20,
42,38,35,40,37,42,34,32,36,34,
18,19,42,33,36,34,31,35,39,36,
21,22,20,40,37,19,23,22,24,25,
25,26,23,38,25,22,24,23,21,18,
37,34,42,38,35,31,34,33,36,35,
33,32,36,38,42,35,36,31,36,38,
38,40,42,30,39,28,42,34,27,36,
18,22,23,27,39,41,24,40,30,33,
26,26,26,26,26,17,43,42,41,25,
40,42,43,36,42,42,40,43,41,38,
42,33,43,41,42,41,43,40,44,42,
43,41,37,36,35,38,34,35,42,42,
20,37,36,41,42,43,25,26,38,37,
26,22,25,28,22,27,32,35,36,38,
38,38,36,37,23,25,24,22,30,42];
const p4Mean=117.38;
const p4XTicks=[90,95,100,105,110,115,120,125];
const p4YTicks=[.15,.10,.05,0,-.05];
const p4CTicks=[40,35,30,25,20];

/* ---------- Panel 6: TEM vs SHAP, colour NDVI ---------- */
const p6X=[10.95,10.98,11.12,11.13,11.28,11.29,11.3,11.45,11.45,11.5,
11.52,11.58,11.62,11.63,11.72,11.7,11.73,11.78,11.77,11.72,
11.85,11.83,11.85,11.93,11.98,12,12.03,11.65,11.73,11.95,
12.02,12.05,12.07,12.08,11.85,11.95,12,11.9,12.05,12.1,
11.9,11.95,12,12.05,12.1,11.9,11.95,12,12.05,12.1,
11.93,11.98,12.03,12.08,12.15,12.18,11.88,11.98,12.03,12.1,
12.02,12.07,12.13,12.18,12.22,12.27,12.32,12.36,12.38,12.07,
11.97,12.13,12.2,12.25,12.3,12.35,12.4,12.13,12.17,12.22,
12,12.05,12.1,12.15,12.2,12.25,12.3,12.35,12.4,12.45,
12.28,12.33,12.38,12.43,12.48,12.2,12.25,12.3,12.35,12.42,
12.45,12.5,12.55,12.6,12.65,12.67,12.5,12.55,12.6,12.65,
12.7,12.75,12.8,12.85,12.9,12.95,13,13.05,12.7,12.75,
12.45,12.5,12.55,12.6,12.65,12.7,12.75,12.8,12.85,12.9,
12.5,12.55,12.6,12.65,12.7,12.75,12.8,12.85,12.9,12.95,
12.55,12.65,12.92,12.95,13,12.9,12.98,12.5,12.95,13.02,
12.93,12.98,13.03,13.05,13.1,13.13,13.08,13,13.02,13.1,
13.12,13.17,13.2,13.25,13.28,13.32,13.35,13.15,13.2,13.25,
13.05,13.1,13.15,13.2,13.25,13.3,13.35,13.4,13.45,13.12,
13.25,13.3,13.35,13.38,13.42,13.28,13.33,13.38,13.43,13.45,
13.3,13.35,13.4,13.45,13.48,13.52,13.55,13.5,13.45,13.42,
13.55,13.6,13.65,13.7,13.75,13.8,13.85,13.6,13.68,13.72,
13.58,13.62,13.68,13.74,13.8,13.85,13.9,13.87,13.82,13.76,
13.9,13.95,14,14.05,14.1,14.15,14.2,14.25,13.95,14,
14,14.05,14.1,14.15,14.2,14.25,14.3,14.35,14.02,14.08,
14.15,14.2,14.25,14.3,14.35,14.4,14.45,14.5,14.12,14.22,
14.1,14.15,14.2,14.25,14.3,14.35,14.4,14.45,14.5,14.55,
14.25,14.3,14.35,14.4,14.45,14.5,14.55,14.6,14,14.05,
14.4,14.45,14.5,14.55,14.6,14.65,14.7,14.75,14.8,14.85,
14.45,14.5,14.55,14.38,14.42,14.47,14.52,14.57,14.62,14.67,
14.35,14.8,14.82,14.85,14.9,14.95,15,15.05,15.1,14.77,
14.92,14.95,14.97,15,15.05,15.1,15.15,15.18,15.25,15.35,
15.1,15.15,15.2,15.3,15.05,14.9,14.95,15.17,15.16,14.98];
const p6Y=[-.002,.003,.009,.006,.0095,.0065,-.0045,.006,.004,.0095,
.01,.0035,.011,.0105,.012,.0075,.0095,.0135,.011,.0125,
.0095,.0085,.002,.0025,.001,.004,.004,-.0075,.001,.004,
0,-.001,-.002,-.003,-.007,-.0065,-.006,-.003,-.009,-.005,
-.01,-.013,-.012,-.013,-.012,-.0165,-.014,-.016,-.014,-.016,
-.018,-.019,-.02,-.018,-.02,-.023,-.0225,-.024,-.026,-.022,
-.03,-.03,-.025,-.026,-.028,-.03,-.03,-.03,-.032,-.03,
-.031,-.035,-.037,-.035,-.04,-.037,-.039,-.042,-.037,-.04,
-.022,-.024,-.028,-.03,-.032,-.034,-.034,-.036,-.044,-.042,
-.042,-.043,-.041,-.046,-.04,-.045,-.043,-.046,-.042,-.048,
-.046,-.05,-.046,-.048,-.044,-.041,-.054,-.058,-.052,-.046,
-.05,-.05,-.048,-.05,-.05,-.048,-.05,-.047,-.055,-.052,
-.056,-.06,-.062,-.064,-.06,-.061,-.058,-.059,-.062,-.056,
-.052,-.05,-.056,-.054,-.058,-.056,-.054,-.054,-.054,-.054,
-.066,-.062,-.066,-.062,-.058,-.06,-.044,-.056,-.042,-.05,
-.04,-.044,-.04,-.036,-.034,-.03,-.028,-.04,-.04,-.038,
-.025,-.03,-.022,-.028,-.018,-.025,-.02,-.018,-.015,-.02,
-.032,-.026,-.02,-.026,-.016,-.02,-.015,-.013,-.004,-.036,
-.012,-.014,-.012,-.016,-.018,-.01,-.008,-.01,-.012,-.008,
-.01,-.012,-.009,-.006,-.008,-.005,-.002,-.01,-.012,-.01,
0,.003,.006,.004,-.003,-.003,-.001,-.003,.003,.006,
.006,.008,.006,.008,.005,.008,.01,.008,.005,.003,
.012,.015,.012,.018,.014,.011,.013,.011,.02,.022,
.025,.027,.022,.016,.02,.018,.014,.022,.03,.034,
.03,.028,.024,.03,.028,.026,.022,.025,.026,.032,
.016,.012,.013,.018,.02,.017,.024,.026,.03,.025,
.034,.034,.03,.031,.03,.034,.028,.03,.018,.016,
.02,.021,.019,.02,.02,.02,.02,.02,.02,.02,
.03,.028,.033,.032,.035,.036,.04,.036,.036,.037,
.037,.038,.035,.034,.03,.02,.022,.015,.02,.037,
.015,.012,.01,.019,.026,.03,.032,.02,.024,.019,
.016,.018,.014,.025,.03,.025,.028,.013,.032,.03];
const p6C=[.69,.74,.69,.77,.69,.68,.65,.71,.68,.69,
.7,.69,.65,.77,.65,.68,.67,.65,.67,.69,
.67,.68,.65,.77,.65,.7,.8,.68,.72,.7,
.65,.65,.65,.65,.65,.67,.7,.7,.68,.71,
.74,.65,.67,.65,.65,.77,.71,.71,.72,.66,
.7,.71,.72,.74,.65,.69,.65,.75,.72,.65,
.7,.72,.7,.7,.71,.7,.65,.65,.65,.68,
.65,.66,.75,.72,.66,.74,.77,.68,.78,.74,
.71,.72,.7,.72,.7,.74,.68,.72,.78,.7,
.66,.76,.72,.75,.68,.76,.76,.72,.78,.7,
.74,.76,.79,.8,.84,.82,.78,.65,.82,.82,
.82,.83,.84,.72,.71,.71,.71,.69,.78,.84,
.77,.75,.75,.74,.72,.77,.72,.79,.76,.72,
.66,.72,.84,.78,.82,.72,.8,.78,.72,.7,
.74,.69,.7,.7,.71,.7,.82,.66,.82,.7,
.83,.8,.74,.84,.75,.79,.77,.8,.72,.74,
.8,.77,.82,.72,.79,.65,.7,.8,.82,.78,
.72,.78,.76,.8,.77,.8,.78,.82,.76,.78,
.84,.79,.8,.65,.65,.79,.8,.76,.8,.79,
.72,.8,.82,.72,.65,.78,.77,.66,.8,.8,
.78,.79,.76,.78,.65,.65,.65,.65,.71,.77,
.77,.78,.77,.76,.73,.79,.75,.65,.65,.79,
.83,.8,.8,.78,.82,.84,.81,.83,.72,.75,
.8,.75,.73,.79,.82,.77,.8,.82,.83,.84,
.76,.83,.77,.84,.8,.79,.82,.77,.7,.82,
.8,.83,.82,.84,.8,.83,.78,.82,.76,.8,
.76,.78,.8,.76,.72,.78,.76,.74,.72,.76,
.84,.84,.84,.83,.83,.84,.83,.84,.83,.84,
.78,.76,.74,.77,.7,.72,.8,.84,.72,.8,
.78,.71,.76,.78,.77,.82,.84,.83,.77,.7,
.82,.83,.84,.79,.78,.82,.84,.79,.78,.79,
.84,.8,.82,.74,.77,.72,.75,.8,.84,.84];
const p6Mean=12.59;
const p6XTicks=[11,12,13,14,15];
const p6YTicks=[.04,.02,0,-.02,-.04,-.06];
const p6CTicks=[.825,.800,.775,.750,.725,.700,.675,.650];

/* ---------- Panel 7: NDVI vs SHAP, colour HFP ---------- */
const p7X=[.263,.395,.44,.442,.458,.475,.5,.49,.495,.5,
.493,.495,.508,.52,.522,.537,.54,.55,.553,.553,
.568,.59,.585,.593,.605,.61,.612,.615,.605,.607,
.622,.635,.636,.647,.64,.54,.545,.55,.565,.578,
.592,.6,.605,.598,.585,.6,.59,.61,.62,.63,
.59,.605,.615,.625,.64,.648,.66,.67,.655,.64,
.6,.61,.625,.635,.645,.655,.665,.68,.69,.635,
.612,.625,.637,.65,.66,.67,.68,.685,.69,.695,
.655,.665,.675,.685,.695,.68,.69,.66,.67,.68,
.66,.67,.68,.69,.65,.66,.67,.68,.69,.7,
.578,.55,.612,.622,.625,.63,.64,.69,.7,.665,
.67,.68,.69,.7,.71,.675,.685,.695,.72,.705,
.67,.69,.7,.71,.72,.71,.72,.725,.715,.73,
.7,.7,.705,.71,.7,.695,.72,.73,.725,.69,
.7,.71,.72,.73,.74,.75,.76,.77,.725,.735,
.73,.74,.75,.76,.72,.73,.74,.75,.76,.74,
.72,.725,.73,.735,.74,.745,.75,.755,.72,.73,
.75,.76,.77,.78,.79,.8,.81,.82,.83,.84,
.74,.75,.76,.77,.78,.79,.8,.81,.82,.83,
.8,.81,.82,.83,.84,.85,.86,.8,.82,.84,
.85,.86,.84,.85,.83,.82,.85,.86,.84,.83,
.845,.855,.86,.88,.89,.915,.85,.83,.81,.865,
.82,.83,.84,.85,.8,.81,.79,.78,.775,.86,
.8,.81,.82,.83,.84,.85,.79,.8,.81,.82,
.83,.84,.85,.81,.82,.83,.84,.86,.77,.78];
const p7Y=[-.074,-.141,-.127,-.117,-.155,-.077,-.068,-.129,-.115,-.14,
-.118,-.128,-.138,-.123,-.117,-.122,-.131,-.131,-.124,-.144,
-.137,-.144,-.124,-.11,-.126,-.12,-.127,-.126,-.126,-.137,
-.123,-.118,-.128,-.12,-.114,-.108,-.107,-.104,-.103,-.106,
-.102,-.103,-.109,-.099,-.097,-.093,-.09,-.09,-.09,-.09,
-.084,-.092,-.085,-.098,-.098,-.09,-.098,-.097,-.09,-.102,
-.073,-.067,-.07,-.085,-.088,-.088,-.082,-.087,-.098,-.075,
-.058,-.06,-.058,-.057,-.064,-.067,-.072,-.07,-.075,-.078,
-.05,-.054,-.05,-.058,-.062,-.064,-.06,-.072,-.077,-.082,
-.06,-.065,-.06,-.068,-.07,-.078,-.085,-.052,-.07,-.025,
-.052,-.06,-.023,-.045,-.05,-.05,-.045,-.05,-.045,-.047,
-.04,-.045,-.05,-.035,-.028,-.053,-.04,-.047,-.043,-.042,
-.029,-.029,-.03,-.03,-.03,-.035,-.035,-.04,-.04,-.045,
0,-.004,-.008,-.012,-.015,-.018,-.018,-.02,-.025,-.003,
-.018,-.022,-.01,-.005,0,-.004,-.01,-.002,-.003,-.001,
-.01,-.012,-.016,-.012,-.023,-.02,-.018,-.005,-.003,-.024,
-.03,-.026,-.012,-.018,-.006,-.014,-.01,-.018,-.012,-.004,
.004,.008,.01,.012,.01,.006,.008,.012,.01,.012,
.003,.012,.016,.018,.016,.018,.02,.02,.018,.015,
.025,.03,.032,.025,.028,.02,.018,.035,.04,.035,
.025,.025,.018,.015,.015,.03,.035,.038,.04,.045,
.052,.05,.045,.05,.05,.047,.042,.045,.038,.025,
.012,.01,.015,.012,.024,.016,.022,.018,.014,.02,
.018,.024,.026,.022,.022,.03,.012,.016,.014,.022,
.035,.03,.042,.036,.03,.03,.045,.028,.012,.009];
const p7C=[22.5,38,37,22.5,43,38,41,42,41,37,
37,42,40,42,39,40,42,40,42,41,
41,41,38,41,42,41,38,38,42,41,
36,42,39,38,35,38,38,41,42,41,
40,41,39,36,41,42,37,37,38,42,
38,39,42,42,42,40,41,42,41,40,
36,42,41,42,40,42,42,41,40,36,
40,36,41,42,40,41,39,42,42,42,
41,39,41,42,42,40,38,41,42,42,
42,41,40,39,41,42,40,42,38,42,
36,35,35,41,36,36,34,35,38,31,
42,36,34,38,35,28,29,38,36,36,
28,24,34,35,36,37,36,32,38,40,
41,41,42,41,42,40,40,24,37,42,
42,41,37,38,39,35,37,37,36,23,
30,36,37,29,25,27,34,33,28,33,
36,35,34,36,30,37,36,35,33,29,
41,36,35,30,30,26,24,27,24,23,
22.5,41,42,42,33,28,36,33,25,26,
27,33,31,34,26,22.5,22.5,35,36,24,
23,22.5,23,22.5,23,34,26,25,27,35,
25,24,25,22.5,29,22.5,26,30,41,24,
23,24,25,26,32,36,34,35,37,22.5,
33,28,30,26,25,25,35,36,33,30,
33,28,27,36,32,29,27,24,36,34];
const p7Mean=0.757;
const p7XTicks=[.3,.4,.5,.6,.7,.8,.9];
const p7YTicks=[.05,0,-.05,-.10,-.15];
const p7CTicks=[42.5,40,37.5,35,32.5,30,27.5,25,22.5];

/* ---------- Panel 8: HFP vs SHAP, colour TEM ---------- */
const p8X=[9,11.2,13.5,13.6,13.6,14.3,16.3,16.8,17,17.5,
17.5,17,19,18.3,19.3,19.9,20.5,20.8,20.7,20.6,
18,18.2,18.4,18.7,19.2,19.5,19.8,20.1,20.5,20.8,
18.3,19,19.5,20,20.5,21,21.5,20.3,20.8,21.2,
21.2,21.7,22.2,22.7,23.2,23.7,24.2,24.7,25.2,25.7,
21.5,22,22.5,23,23.5,24,24.5,25,25.5,26,
22,22.6,23.2,23.8,24.4,25,25.6,26.2,26.8,27.4,
26.5,27,27.5,28,28.5,29,29.5,30,30.5,31,
26.3,26.8,27.3,27.8,28.3,28.8,29.3,29.8,30.3,30.8,
28,28.6,29.2,29.8,30.4,31,31.6,32,28.2,29.4,
27.5,28.3,29,29.3,31.5,31.8,24.5,25,25.5,23.4,
27.7,28.6,30,31.3,32,29.6,32.5,33.5,34.1,34.4,
34.5,34.8,34.9,35.2,32.9,33.5,33.8,35.1,34.9,35.2,
32,32.5,33,33.5,34,34.5,35,30.3,31.5,31.5,
33,33.5,34,34.5,35,35.5,36,36.5,37,37.5,
35.5,36,36.5,37,37.5,38,38.5,39,39.5,40,
37,37.6,38.2,38.8,39.4,40,40.6,41.2,36.2,35.8,
38,38.5,39,39.5,40,40.5,41,41.5,39.7,40.2,
41,41.5,42,42.5,43,43.5,44,44.5,43.2,43.7,
41.2,41.7,42.2,42.7,43.2,43.7,44.2,44.7,41.5,42.3,
42,42.5,43,43.5,44,44.5,42.8,43.4,41.4,42,
44.5,45,45.5,46,46.5,45,46,46.5,47.5,47.7,
44.9,45.8,46.3,47,47.5,48,48.6,49.2,49.5,49.4,
45.5,45.8,46,46.3,46.6,48,48.3,48.9,50,50];
const p8Y=[.0715,.073,.0835,.056,.043,.049,.053,.0715,.058,.048,
.0655,.042,.06,.041,.042,.046,.0765,.048,.041,.04,
.04,.036,.036,.033,.032,.033,.03,.029,.032,.033,
.029,.027,.024,.022,.024,.028,.024,.019,.022,.018,
.014,.016,.012,.018,.012,.016,.013,.016,.012,.014,
.01,.011,.009,.014,.009,.011,.009,.01,.008,.011,
.013,.011,.015,.012,.015,.012,.013,.009,.012,.01,
.014,.011,.013,.01,.012,.015,.012,.012,.011,.009,
.009,.008,.008,.009,.009,.008,.009,.01,.008,.009,
.013,.011,.011,.014,.01,.012,.01,.005,.008,.009,
.016,.016,.018,.015,.012,.007,.032,.032,.025,.027,
.033,.032,.032,.032,.03,.027,.029,.028,.032,.027,
.025,.024,.021,.018,.015,.016,.017,.014,.01,.005,
.006,.002,.001,-.002,.002,.006,.004,.001,.001,-.011,
-.004,-.005,-.003,-.007,-.003,-.001,-.006,-.004,-.001,-.004,
-.006,-.009,-.008,-.011,-.007,-.01,-.007,-.008,.003,.001,
-.005,-.002,-.006,-.012,-.002,-.01,-.006,-.014,-.002,-.004,
-.01,-.014,-.01,-.004,-.006,-.002,-.005,-.011,.002,-.002,
-.012,-.02,-.024,-.016,-.02,-.012,-.006,-.018,-.008,-.002,
-.022,-.028,-.026,-.032,-.025,-.024,-.02,-.026,-.03,-.03,
-.02,-.028,-.024,-.02,-.03,-.02,-.014,-.03,-.025,-.034,
-.03,-.028,-.035,-.03,-.033,-.036,-.035,-.028,-.027,-.032,
-.042,-.042,-.043,-.043,-.04,-.044,-.042,-.041,-.027,-.022,
-.05,-.052,-.05,-.05,-.05,-.05,-.046,-.037,-.037,-.042];
const p8C=[14.6,14.6,14.3,14.6,14.8,14,14.8,14.5,14.8,14.8,
14,14.8,13.9,14.8,14.6,14.5,14.3,14.7,13.9,14.6,
14.7,14.6,14.4,14.5,14.8,14.5,13.7,14.3,14.8,12.2,
14.7,14.3,13.3,14.1,14.8,13.9,13.4,14.9,14.8,14.9,
14.8,14.7,14.9,14.6,14.2,13.3,14.5,14.2,14.6,14.2,
14.8,14.9,14.7,14.5,14.3,14.1,14,14.2,14.3,13.6,
14.8,14.6,14.4,14.2,13.2,14.7,13.3,14.3,14.4,14,
14.4,14.8,14.3,14.6,14.3,13.9,13.8,14.3,13.5,13.3,
14.1,14.3,13.3,14,14.2,14.1,14,13.9,13.2,13.4,
14.2,13.3,14.1,13.8,13.3,13.4,14.6,14.8,14,14,
13.2,14.6,14.6,13.7,14.2,14.7,12.1,14.2,13.9,14.8,
14.7,14.2,14,13.4,14.8,14.1,14,14.1,13.6,14.2,
12.2,14.1,14.1,14.2,14,14,13.9,14.7,13.3,12.6,
14.8,14.3,14,13.5,14.2,14.7,13.3,13.3,13.3,13.3,
13.2,13,14.1,12.7,14.3,13.4,12.4,12.8,13,12.8,
12.8,12.5,13.2,12.3,14.8,13,12.7,12.6,13.9,14.1,
12.8,13,13.2,12.6,14.2,12.9,13,14,13.1,12.7,
14.6,14.2,12.5,12.8,12.8,13.2,13.3,12.9,13,14,
14.6,13,12.6,12.9,13.2,14.1,13.4,12.7,14,14.2,
13,14.3,12.4,12.9,13.2,13.3,12.5,12.6,14.3,14.5,
13.1,12.8,13.2,13.3,12.9,13,14,13.1,12.5,14,
13,13.5,13.1,12.7,12.4,14.4,12.5,12.9,12.8,13.2,
14.8,12.2,12.2,14.5,13,12.3,12.2,14.7,12.7,12.8,
12.7,12.4,12.5,12.4,12.3,12.4,14.6,12.3,14,12.9];
const p8Mean=33.71;
const p8XTicks=[10,20,30,40,50];
const p8YTicks=[.08,.06,.04,.02,0,-.02,-.04];
const p8CTicks=[14.5,14.0,13.5,13.0,12.5];

/* ---------- Drawing ---------- */
const root=document.getElementById('root');
const panels=document.getElementById('panels');
const NS=root.namespaceURI;
const RAMP=[[84,48,5],[140,81,10],[191,129,45],[223,194,125],[246,232,195],[245,245,245],[199,234,229],[128,205,193],[53,151,143],[1,102,94],[0,60,48]];
function cmap(t){
  t=Math.max(0,Math.min(1,t))*10;
  const i=Math.min(9,Math.floor(t)),f=t-i,a=RAMP[i],b=RAMP[i+1];
  return 'rgb('+a.map(function(v,k){return Math.round(v+(b[k]-v)*f);}).join(',')+')';
}
function mk(tag,attrs,parent,txt){
  const n=document.createElementNS(NS,tag);
  for(const k in attrs)n.setAttribute(k,attrs[k]);
  if(txt!==undefined)n.textContent=txt;
  parent.appendChild(n);
  return n;
}
function fmt(v,d){return v.toFixed(d).replace('-','\u2212');}
function scale(d0,d1,r0,r1){return function(v){return r0+(v-d0)/(d1-d0)*(r1-r0);};}
function vtext(parent,str,cx,cy,fs,nm){
  const k=1.28;
  const t=mk('text',{transform:'translate('+(cx+fs*.33*k)+','+cy+') rotate(-90) scale(1,'+k+')','text-anchor':'middle','font-size':fs,fill:'#222'},parent,str);
  
  
}
function colorbar(parent,x,w,top,bot){
  const r=mk('rect',{x:x,y:top,width:w,height:bot-top,fill:'url(#brbg)'},parent);
  
  
}
function drawScatter(f,xs,ys,cs,mean,meanLabel,xT,yT,cT){
  const g=mk('g',{},panels);
  
  
  const sx=scale(f.xd[0],f.xd[1],f.L,f.R),sy=scale(f.yd[0],f.yd[1],f.B,f.T),sc=scale(f.cd[0],f.cd[1],0,1),cy=scale(f.cd[0],f.cd[1],f.B,f.T);
  const bg=mk('rect',{x:f.L,y:sy(0),width:f.R-f.L,height:f.B-sy(0),fill:'#fbf8f0'},g);
  
  
  const ml=mk('line',{x1:sx(mean),x2:sx(mean),y1:f.T,y2:f.B,stroke:'#3b9bf5','stroke-width':2.5,'stroke-dasharray':'8 4'},g);
  
  
  for(let i=0;i<xs.length;i++){
    const dot=mk('circle',{cx:sx(xs[i]),cy:sy(ys[i]),r:f.r,fill:cmap(sc(cs[i]))},g);
    
    
  }
  const ml2=mk('line',{x1:sx(mean),x2:sx(mean),y1:f.T,y2:f.B,stroke:'#3b9bf5','stroke-width':2,'stroke-dasharray':'8 4',opacity:.55},g);
  
  
  const ax=mk('path',{d:'M'+f.L+' '+f.T+'V'+f.B+'H'+f.R,fill:'none',stroke:'#8a8a8a','stroke-width':3},g);
  
  
  xT.forEach(function(v){
    const tk=mk('line',{x1:sx(v),x2:sx(v),y1:f.B,y2:f.B+6,stroke:'#8a8a8a','stroke-width':2},g);
    
    
    const t=mk('text',{x:sx(v),y:f.xtb,'text-anchor':'middle','font-size':f.xfs,fill:'#222'},g,fmt(v,f.xdig));
    
    
  });
  yT.forEach(function(v){
    const tk=mk('line',{x1:f.L-6,x2:f.L,y1:sy(v),y2:sy(v),stroke:'#8a8a8a','stroke-width':2},g);
    
    
    const t=mk('text',{x:f.L-7,y:sy(v)+f.yfs*.34,'text-anchor':'end','font-size':f.yfs,fill:'#333'},g,fmt(v,2));
    
    
  });
  const xl=mk('text',{x:f.xl[0],y:f.xl[1],'text-anchor':'middle','font-size':f.xl[2],fill:'#111'},g,f.xLabel);
  
  
  vtext(g,'SHAP values',f.yl[0],f.yl[1],f.yl[2],'y-axis-title');
  vtext(g,f.cLabel,f.cl[0],f.cl[1],47,'colorbar-title');
  colorbar(g,f.cbx,f.cbw,f.T,f.B);
  cT.forEach(function(v){
    const tk=mk('line',{x1:f.cbx+f.cbw,x2:f.cbx+f.cbw+6,y1:cy(v),y2:cy(v),stroke:'#666','stroke-width':2},g);
    
    
    const t=mk('text',{x:f.cbt,y:cy(v)+f.cfs*.34,'text-anchor':'middle','font-size':f.cfs,'font-style':'italic',fill:'#222'},g,fmt(v,f.cdig));
    
    
  });
  const bx=mk('rect',{x:sx(mean)-f.box[0]/2,y:f.box[1],width:f.box[0],height:f.box[2],fill:'#fff','fill-opacity':.85,stroke:'#808080','stroke-width':2.5},g);
  
  
  const bt=mk('text',{x:sx(mean),y:f.box[1]+f.box[2]/2+12,'text-anchor':'middle','font-size':36,fill:'#1414f0'},g,meanLabel);
  
  
  const ld=mk('line',{x1:f.leg[0],x2:f.leg[0]+100,y1:f.leg[1],y2:f.leg[1],stroke:'#3b9bf5','stroke-width':3,'stroke-dasharray':'12 5'},g);
  
  
  const lt=mk('text',{x:f.leg[2],y:f.leg[3],'font-size':50,fill:'#111'},g,f.legText);
  
  
}
function drawPie(parent,cx,cy,shares,labels,colors,r0,dr,fracs){
  let acc=0;
  const total=shares.reduce(function(a,b){return a+b;},0);
  shares.forEach(function(v,i){
    const a0=acc/total*2*Math.PI;acc+=v;const a1=acc/total*2*Math.PI;
    const r=r0+dr*i;
    const x0=cx+r*Math.sin(a0),y0=cy-r*Math.cos(a0),x1=cx+r*Math.sin(a1),y1=cy-r*Math.cos(a1);
    const s=mk('path',{d:'M'+cx+' '+cy+'L'+x0+' '+y0+'A'+r+' '+r+' 0 '+((a1-a0)>Math.PI?1:0)+' 1 '+x1+' '+y1+'Z',fill:colors[i],stroke:'#fff','stroke-width':3},parent);
    
    
  });
  acc=0;
  shares.forEach(function(v,i){
    const m=(acc+v/2)/total*2*Math.PI;acc+=v;
    const r=(r0+dr*i)*fracs[i];
    const t=mk('text',{x:cx+r*Math.sin(m),y:cy-r*Math.cos(m)+12,'text-anchor':'middle','font-size':34,fill:i===0?'#f4ecd8':'#222'},parent,labels[i]);
    
    
  });
}
function drawPieLegend(parent,names,colors,layout){
  layout.forEach(function(c,i){
    const s=mk('rect',{x:c[0],y:c[1],width:52,height:c[3],fill:colors[i]},parent);
    
    
  });
  layout.forEach(function(c,i){
    const t=mk('text',{x:c[2],y:c[1]+c[3]-3,'font-size':24,fill:'#333'},parent,names[i]);
    
    
  });
}
function drawSwarm(f,names,rows,ticks,labelYs,pieDraw){
  const g=mk('g',{},panels);
  
  
  const sx=scale(0,1,f.x0,f.x0+f.k);
  names.forEach(function(nm,r){
    const y=f.rowY[r];
    const d=mk('line',{x1:f.axL,x2:f.axR,y1:y,y2:y,stroke:'#dedede','stroke-width':2,'stroke-dasharray':'2 6'},g);
    
    
    const l=mk('text',{x:f.labX,y:labelYs[r]+15,'text-anchor':'middle','font-size':46,'font-weight':'bold','font-style':'italic',fill:'#000'},g,nm);
    
    
  });
  const z=mk('line',{x1:sx(0),x2:sx(0),y1:f.zTop,y2:f.axY,stroke:'#8a8a8a','stroke-width':3},g);
  
  
  rows.forEach(function(row,r){
    row[0].forEach(function(s,i){
      const n=row[1][i]||1;
      for(let j=0;j<n;j++){
        const off=(j-(n-1)/2)*f.gap;
        const jx=[0,-4,4][j%3];
        const mix=[0,-.09,.09][(j+i)%3];
        const dot=mk('circle',{cx:sx(s/1000)+jx,cy:f.rowY[r]+off,r:f.r,fill:cmap(row[2][i]/9+mix)},g);
        
        
      }
    });
  });
  const z2=mk('line',{x1:sx(0),x2:sx(0),y1:f.zTop,y2:f.axY,stroke:'#8a8a8a','stroke-width':2,opacity:.7},g);
  
  
  const ax=mk('line',{x1:f.axL,x2:f.axR,y1:f.axY,y2:f.axY,stroke:'#555','stroke-width':3},g);
  
  
  ticks.forEach(function(v){
    const tk=mk('line',{x1:sx(v),x2:sx(v),y1:f.axY,y2:f.axY+8,stroke:'#555','stroke-width':2},g);
    
    
    const t=mk('text',{x:sx(v)-4,y:f.tickY,'text-anchor':'middle','font-size':46,fill:'#222'},g,fmt(v,2));
    
    
  });
  colorbar(g,f.cbx,10,f.cbT,f.cbB);
  const hi=mk('text',{x:1518,y:f.hiY,'text-anchor':'middle','font-size':44,'font-style':'italic',fill:'#111'},g,'High');
  
  
  const lo=mk('text',{x:1521,y:f.loY,'text-anchor':'middle','font-size':44,'font-style':'italic',fill:'#111'},g,'Low');
  
  
  vtext(g,'Feature value',f.fv[0],f.fv[1],48,'colorbar-title');
  pieDraw(g);
}

/* SHAP summary panels */
const pieColors1=['#4f2a08','#945a12','#c8984a','#e8d09a','#f5ecdc','#e6f4f1','#52ab9e','#177e72','#01574b'];
const pieColors5=['#4a2710','#8c5524','#c59a4c','#e7cf92','#f5ecdc','#e8f4f1','#52ab9e','#177e72','#01574b'];
drawSwarm({name:'shap-summary-panel-1',x0:847,k:2820,rowY:[360,442,521,602,683,763,843,924,1005],axL:235,axR:1401,axY:1086,labX:138,zTop:280,r:7.5,gap:6.2,tickY:1136,cbx:1464,cbT:265,cbB:1087,hiY:292,loY:1136,fv:[1421,724]},
 rowNames1,
 [[p1HfpShap,p1HfpCount,p1HfpFeat],[p1NdviShap,p1NdviCount,p1NdviFeat],[p1EvaShap,p1EvaCount,p1EvaFeat],[p1DemShap,p1DemCount,p1DemFeat],[p1MapShap,p1MapCount,p1MapFeat],[p1TemShap,p1TemCount,p1TemFeat],[p1WsdShap,p1WsdCount,p1WsdFeat],[p1VwcShap,p1VwcCount,p1VwcFeat],[p1SloShap,p1SloCount,p1SloFeat]],
 shapTicks1,[352,433,514,601,689,770,858,944,1033],
 function(g){
  drawPie(g,483,794,pieShares1,pieLabels1,pieColors1,116,22.2,[.63,.67,.74,.78,.74,.76,.82,1.08,1.09]);
  drawPieLegend(g,pieNames1,pieColors1,[[212,992,272,25],[319,992,378,25],[441,992,500,25],[556,992,615,25],[212,1029,272,24],[330,1029,384,24],[437,1029,498,24],[552,1029,612,24],[671,1029,730,24]]);
 });
drawSwarm({name:'shap-summary-panel-5',x0:1032,k:4330,rowY:[2541,2626,2711,2796,2880,2964,3050,3134,3218],axL:294,axR:1388,axY:3305,labX:135,zTop:2456,r:7.5,gap:6,tickY:3349,cbx:1457,cbT:2456,cbB:3303,hiY:2474,loY:3319,fv:[1421,2906]},
 rowNames5,
 [[p5TemShap,p5TemCount,p5TemFeat],[p5NdviShap,p5NdviCount,p5NdviFeat],[p5HfpShap,p5HfpCount,p5HfpFeat],[p5EvaShap,p5EvaCount,p5EvaFeat],[p5SloShap,p5SloCount,p5SloFeat],[p5WsdShap,p5WsdCount,p5WsdFeat],[p5VwcShap,p5VwcCount,p5VwcFeat],[p5DemShap,p5DemCount,p5DemFeat],[p5MapShap,p5MapCount,p5MapFeat]],
 shapTicks5,[2546,2627,2710,2797,2879,2966,3055,3137,3219],
 function(g){
  drawPie(g,480,2963,pieShares5,pieLabels5,pieColors5,125,23.5,[.65,.72,.74,.79,.75,.79,1.14,1.09,1.06]);
  drawPieLegend(g,pieNames5,pieColors5,[[215,3199,273,25],[326,3199,385,25],[447,3199,506,25],[552,3199,612,25],[215,3234,273,25],[322,3234,381,25],[434,3234,495,25],[552,3234,611,25],[665,3234,725,25]]);
 });

/* Dependence scatter panels */
drawScatter({name:'dependence-panel-2',L:1771,R:2957,T:300,B:1097,xd:[3.84,52.24],yd:[-.127,.1996],cd:[.554,.843],r:10.5,xtb:1142,xfs:46,xdig:0,yfs:42,xLabel:'HFP values',xl:[2405,1185,56],yl:[1644,699,44],cLabel:'NDVI',cl:[2958,657],cbx:3000,cbw:9,cbt:3053,cfs:38,cdig:2,box:[94,342,46],leg:[1807,1006,1948,1026],legText:'Mean HFP at SHAP=0'},p2X,p2Y,p2C,p2Mean,'32.14',p2XTicks,p2YTicks,p2CTicks);
drawScatter({name:'dependence-panel-3',L:245,R:1385,T:1335,B:2098,xd:[.0146,.9498],yd:[-.186,.088],cd:[100.2,123.8],r:10.5,xtb:2135,xfs:36,xdig:1,yfs:38,xLabel:'NDVI values',xl:[837,2205,56],yl:[122,1717,43],cLabel:'EVA',cl:[1421,1720],cbx:1454,cbw:8,cbt:1513,cfs:37,cdig:0,box:[74,1340,46],leg:[267,1389,408,1408],legText:'Mean NDVI at SHAP=0'},p3X,p3Y,p3C,p3Mean,'0.73',p3XTicks,p3YTicks,p3CTicks);
drawScatter({name:'dependence-panel-4',L:1767,R:2917,T:1330,B:2126,xd:[86.74,127],yd:[-.0533,.1921],cd:[16.3,44.2],r:10.5,xtb:2163,xfs:36,xdig:0,yfs:36,xLabel:'EVA values',xl:[2410,2210,56],yl:[1640,1730,44],cLabel:'HFP',cl:[2958,1695],cbx:2990,cbw:8,cbt:3027,cfs:36,cdig:0,box:[110,1391,48],leg:[1807,2062,1948,2081],legText:'Mean EVA at SHAP=0'},p4X,p4Y,p4C,p4Mean,'117.38',p4XTicks,p4YTicks,p4CTicks);
drawScatter({name:'dependence-panel-6',L:1784,R:2908,T:2461,B:3262,xd:[10.722,15.6],yd:[-.0693,.04514],cd:[.6406,.839],r:10.5,xtb:3306,xfs:44,xdig:0,yfs:36,xLabel:'TEM values',xl:[2412,3352,55],yl:[1657,2863,44],cLabel:'NDVI',cl:[2952,2873],cbx:2978,cbw:10,cbt:3048,cfs:36,cdig:3,box:[95,2477,46],leg:[2335,3204,2475,3223],legText:'Mean TEM at SHAP=0'},p6X,p6Y,p6C,p6Mean,'12.59',p6XTicks,p6YTicks,p6CTicks);
drawScatter({name:'dependence-panel-7',L:188,R:1376,T:3473,B:4278,xd:[.232,.9468],yd:[-.1667,.0647],cd:[22.3,43.3],r:10,xtb:4322,xfs:42,xdig:1,yfs:37,xLabel:'NDVI values',xl:[799,4366,56],yl:[58,3878,44],cLabel:'HFP',cl:[1429,3875],cbx:1451,cbw:10,cbt:1515,cfs:36,cdig:1,box:[78,3475,47],leg:[214,3538,354,3556],legText:'Mean NDVI at SHAP=0'},p7X,p7Y,p7C,p7Mean,'0.76',p7XTicks,p7YTicks,p7CTicks);
drawScatter({name:'dependence-panel-8',L:1752,R:2903,T:3480,B:4277,xd:[7.03,51.99],yd:[-.0572,.0932],cd:[12.1,14.98],r:10,xtb:4322,xfs:44,xdig:0,yfs:36,xLabel:'HFP values',xl:[2390,4367,56],yl:[1625,3882,44],cLabel:'TEM',cl:[2943,3868],cbx:2976,cbw:8,cbt:3042,cfs:36,cdig:1,box:[93,3525,44],leg:[1796,4217,1937,4235],legText:'Mean HFP at SHAP=0'},p8X,p8Y,p8C,p8Mean,'33.71',p8XTicks,p8YTicks,p8CTicks);
</script>
</body>
</html>
